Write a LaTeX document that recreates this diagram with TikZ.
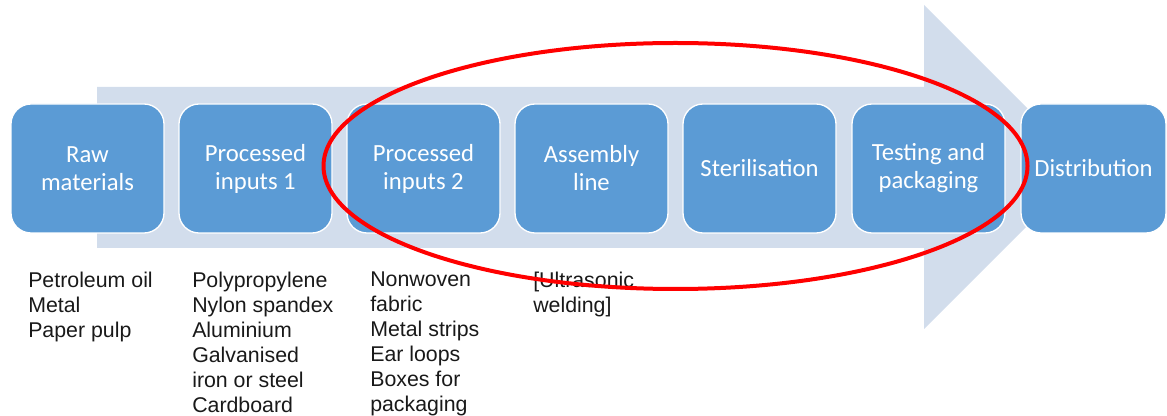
\documentclass[tikz,border=0pt]{standalone}
\usepackage{fontspec}
\setmainfont{Carlito}
\newfontfamily\listfont{Liberation Sans}
\usepackage{tikz}
\usepackage{xcolor}
\usetikzlibrary{calc}
\usetikzlibrary{positioning}

\definecolor{boxblue}{RGB}{91,155,213}
\definecolor{arrowgrey}{RGB}{210,221,236}
\definecolor{ringred}{RGB}{255,0,0}

\begin{document}
\begin{tikzpicture}[x=0.75pt, y=-0.75pt, line join=round,
        stepbox/.style={draw=white, line width=1pt, fill=boxblue, rounded corners=15pt,
            minimum width=114.75pt, minimum height=96.75pt, align=center, text=white,
            font=\fontsize{18.5}{21}\selectfont},
        notes/.style={anchor=north west, inner sep=0pt, align=left, text=black!90,
            font=\listfont\fontsize{16}{18.75}\selectfont}]
            \useasboundingbox (0,0) rectangle (1167,416);

            % big background arrow
            \fill[arrowgrey] (97,87) -- (924,87) -- (924,5) -- (1086,167)
                -- (924,329) -- (924,248) -- (97,248) -- cycle;

            % process steps
            \node[stepbox] (raw)      at (87.5,168.5)  {Raw\\materials};
            \node[stepbox] (proc1)    at (255.5,168.5) {Processed\\inputs 1};
            \node[stepbox] (proc2)    at (423.5,168.5) {Processed\\inputs 2};
            \node[stepbox] (assembly) at (591.5,168.5) {Assembly\\line};
            \node[stepbox] (steril)   at (759.5,168.5) {Sterilisation};
            \node[stepbox] (testing)  at (928.5,168.5) {Testing and\\packaging};
            \node[stepbox, minimum width=108.75pt] (distrib) at (1093.5,168.5) {Distribution};

            % materials listed under the steps
            \node[notes] (rawlist)   at (28,272)  {Petroleum oil\\Metal\\Paper pulp};
            \node[notes] (proc1list) at (192,272) {Polypropylene\\Nylon spandex\\Aluminium\\Galvanised\\iron or steel\\Cardboard};
            \node[notes] (proc2list) at (370,272) {Nonwoven\\fabric\\Metal strips\\Ear loops\\Boxes for\\packaging};
            \node[notes] (asmlist)   at (533,272) {[Ultrasonic\\welding]};

            % highlight round the in-house steps
            \draw[ringred, line width=3pt] (675.5,166) ellipse [x radius=352, y radius=123];
        \end{tikzpicture}
\end{document}
